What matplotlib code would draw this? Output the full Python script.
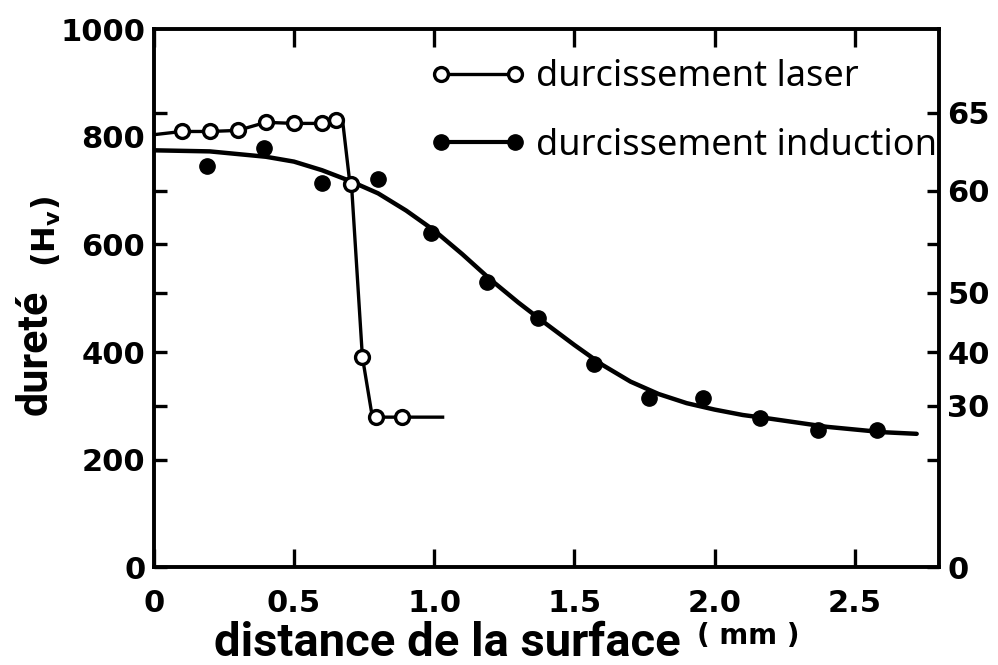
import numpy as np
import matplotlib
matplotlib.use('Agg')
import matplotlib.pyplot as plt
from matplotlib.lines import Line2D

# hardness profile, laser hardening (open circles)
laser_x = [0.1, 0.2, 0.3, 0.4, 0.5, 0.6, 0.65, 0.705, 0.744, 0.794, 0.886]
laser_y = [810, 810, 812, 827, 825, 825, 832, 713, 391, 279, 279]
# drawn trace through the laser points
laser_line_x = [0, 0.1, 0.2, 0.3, 0.4, 0.5, 0.6, 0.65, 0.673, 0.698, 0.705, 0.744, 0.776, 0.794, 0.886, 1.03]
laser_line_y = [804, 810, 810, 812, 827, 825, 825, 832, 832, 720, 713, 391, 290, 279, 279, 279]

# hardness profile, induction hardening (filled circles)
induction_x = [0.19, 0.395, 0.6, 0.8, 0.99, 1.19, 1.37, 1.57, 1.765, 1.96, 2.16, 2.37, 2.58]
induction_y = [745, 780, 715, 721, 622, 531, 464, 378, 315, 315, 277, 255, 255]
# fitted curve through the induction points
induction_curve_x = [0, 0.2, 0.4, 0.5, 0.6, 0.7, 0.8, 0.9, 1.0, 1.1, 1.2, 1.3, 1.4, 1.5,
                     1.6, 1.7, 1.8, 1.9, 2.0, 2.1, 2.2, 2.4, 2.6, 2.72]
induction_curve_y = [775, 773, 763, 754, 738, 718, 695, 663, 626, 582, 535, 492, 452, 413,
                     376, 345, 322, 305, 293, 283, 276, 261, 251, 248]

x_ticks = [0, 0.5, 1.0, 1.5, 2.0, 2.5]
x_labels = ['0', '0.5', '1.0', '1.5', '2.0', '2.5']
hv_ticks = [0, 200, 400, 600, 800, 1000]
# Rockwell C scale, placed at its Vickers equivalent
hrc_pos = [0, 200, 300, 400, 510, 600, 700, 845]
hrc_labels = ['0', '', '30', '40', '50', '', '60', '65']

tick_font = dict(family='DejaVu Sans', weight='bold', size=22)

fig = plt.figure(figsize=(9.98, 6.65), dpi=100)
ax = fig.add_axes([0.154, 0.147, 0.787, 0.809])

ax.plot(induction_curve_x, induction_curve_y, color='black', lw=3.2, solid_capstyle='round')
ax.plot(induction_x, induction_y, 'o', color='black', ms=11)
ax.plot(laser_line_x, laser_line_y, color='black', lw=2.4)
ax.plot(laser_x, laser_y, 'o', mfc='white', mec='black', mew=2.4, ms=10)

ax.set_xlim(0, 2.8)
ax.set_ylim(0, 1000)
for s in ax.spines.values():
    s.set_linewidth(2.8)

ax.set_xticks(x_ticks)
ax.set_xticklabels(x_labels, fontdict=tick_font)
ax.tick_params(axis='x', direction='in', length=13, width=2.4, top=True, pad=16)
ax.set_yticks(hv_ticks)
ax.set_yticklabels([str(v) for v in hv_ticks], fontdict=tick_font)
ax.tick_params(axis='y', length=0, pad=6)

# second scale on the right, its ticks also shown on the left edge
ax2 = ax.twinx()
ax2.set_ylim(0, 1000)
ax2.set_yticks(hrc_pos)
ax2.set_yticklabels(hrc_labels, fontdict=tick_font)
ax2.yaxis.set_ticks_position('both')
ax2.tick_params(axis='y', direction='in', length=9, width=2.4, labelleft=False, labelright=True, pad=6)
for s in ax2.spines.values():
    s.set_visible(False)

handles = [
    Line2D([], [], color='black', lw=2.4, marker='o', mfc='white', mec='black', mew=2.4, ms=10),
    Line2D([], [], color='black', lw=3.0, marker='o', mfc='black', mec='black', ms=11),
]
ax.legend(handles, ['durcissement laser', 'durcissement induction'], loc='upper left',
          bbox_to_anchor=(0.352, 0.944), frameon=False, numpoints=2, handlelength=2.65,
          handletextpad=0.28, labelspacing=0.9, borderpad=0, borderaxespad=0,
          prop=dict(family='Noto Sans', size=26))

fig.text(0.035, 0.47, 'dureté', rotation=90, ha='center', va='center',
         family='Roboto', weight='bold', size=31)
fig.text(0.046, 0.652, r'(H$_\mathbf{v}$)', rotation=90, ha='center', va='center',
         family='DejaVu Sans', weight='bold', size=23)
fig.text(0.448, 0.013, 'distance de la surface', ha='center', va='baseline',
         family='Roboto', weight='bold', size=34)
fig.text(0.750, 0.032, '( mm )', ha='center', va='baseline',
         family='DejaVu Sans', weight='bold', size=20)

fig.savefig('out.png', dpi=100)
